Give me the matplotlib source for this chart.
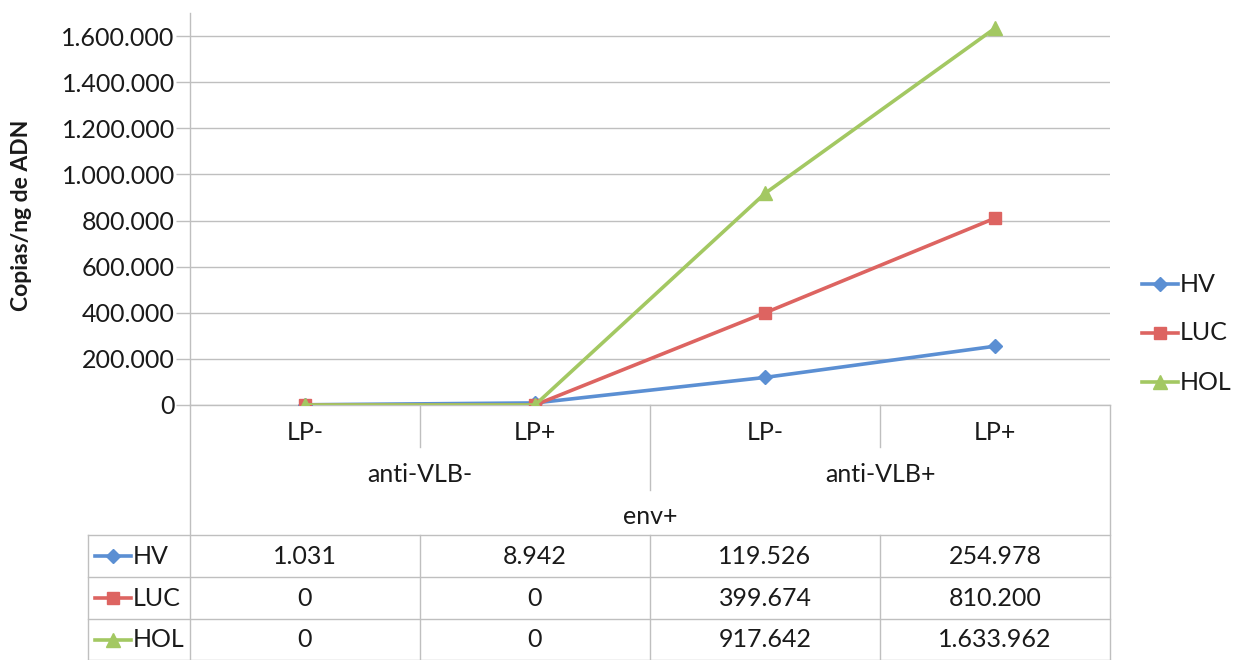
import matplotlib

matplotlib.use("Agg")

import matplotlib.pyplot as plt
from matplotlib.ticker import FuncFormatter
from matplotlib.transforms import blended_transform_factory

plt.rcParams["font.family"] = ["Lato", "DejaVu Sans"]

categories = ["LP-", "LP+", "LP-", "LP+"]
groups = ["anti-VLB-", "anti-VLB+"]
outer_group = "env+"
series_names = ["HV", "LUC", "HOL"]
hv = [1031, 8942, 119526, 254978]
luc = [0, 0, 399674, 810200]
hol = [0, 0, 917642, 1633962]
y_ticks = [0, 200000, 400000, 600000, 800000, 1000000, 1200000, 1400000, 1600000]

colors = ["#5B8FD3", "#DD6461", "#A3C862"]
markers = ["D", "s", "^"]
msizes = [7, 9, 10]
grid_col = "#BFBFBF"
text_col = "#1A1A1A"
FS = 18

W, H = 1237, 660
fig = plt.figure(figsize=(W / 100, H / 100), dpi=100)
fig.patch.set_facecolor("white")

# overlay in pixel coordinates for the category axis, legend and data table
ov = fig.add_axes([0, 0, 1, 1])
ov.set_xlim(0, W)
ov.set_ylim(H, 0)
ov.axis("off")

left, right, top, zero = 190, 1110, 13, 405
ax = fig.add_axes([left / W, (H - zero) / H, (right - left) / W, (zero - top) / H])
ax.set_facecolor("none")

x = list(range(len(categories)))
data = [hv, luc, hol]
for vals, name, c, m, ms in zip(data, series_names, colors, markers, msizes):
    ax.plot(x, vals, color=c, lw=2.6, marker=m, ms=ms, mec=c, mfc=c, label=name, zorder=3)

ax.set_xlim(-0.5, len(categories) - 0.5)
ax.set_ylim(0, 1700000)
ax.set_yticks(y_ticks)
ax.yaxis.set_major_formatter(FuncFormatter(lambda v, p: f"{int(v):,}".replace(",", ".")))
ax.tick_params(axis="y", length=10, width=1, color=grid_col, labelsize=FS, labelcolor=text_col, pad=1)
ax.set_xticks([])
for s in ["top", "right", "bottom"]:
    ax.spines[s].set_visible(False)
ax.spines["left"].set_color(grid_col)
ax.spines["left"].set_linewidth(1)
ax.yaxis.grid(True, color=grid_col, lw=1)
ax.set_axisbelow(True)
ax.set_ylabel("Copias/ng de ADN", fontsize=16.5, fontweight="bold", color=text_col)
ax.yaxis.set_label_coords(-0.172, 0.485)

# category axis + table, x in data coords, y in pixels
tr = blended_transform_factory(ax.transData, ov.transData)
n = len(categories)
lk = dict(color=grid_col, lw=1, transform=tr, clip_on=False)
ov.plot([-0.5, n - 0.5], [zero, zero], **lk)
for i, cat in enumerate(categories):
    ov.text(i, 432, cat, transform=tr, ha="center", va="center", fontsize=FS, color=text_col)
for b in [0.5, 2.5]:
    ov.plot([b, b], [zero, 447], **lk)
ov.plot([1.5, 1.5], [zero, 490], **lk)
for gi, g in enumerate(groups):
    ov.text(gi * 2 + 0.5, 475, g, transform=tr, ha="center", va="center", fontsize=FS, color=text_col)
ov.text((n - 1) / 2, 517, outer_group, transform=tr, ha="center", va="center", fontsize=FS, color=text_col)
ov.plot([-0.5, -0.5], [zero, H], **lk)
ov.plot([n - 0.5, n - 0.5], [zero, H], **lk)

# data table
tab_left = 88
rows_y = [535, 577, 619, 660]
for yy in rows_y:
    ov.plot([tab_left, right], [yy, yy], color=grid_col, lw=1)
ov.plot([tab_left, tab_left], [rows_y[0], H], color=grid_col, lw=1)
for b in [0.5, 1.5, 2.5]:
    ov.plot([b, b], [rows_y[0], H], **lk)


def fmt(v):
    return f"{v:,}".replace(",", ".")


def key(x0, yc, c, m, ms, name):
    ov.plot([x0, x0 + 36], [yc, yc], color=c, lw=2.6)
    ov.plot([x0 + 18], [yc], marker=m, ms=ms, color=c)
    ov.text(x0 + 38, yc, name, ha="left", va="center", fontsize=FS, color=text_col)


for r, (vals, name, c, m, ms) in enumerate(zip(data, series_names, colors, markers, msizes)):
    yc = (rows_y[r] + rows_y[r + 1]) / 2
    key(95, yc, c, m, ms, name)
    for i, v in enumerate(vals):
        ov.text(i, yc, fmt(v), transform=tr, ha="center", va="center", fontsize=FS, color=text_col)

# legend on the right
for r, (name, c, m, ms) in enumerate(zip(series_names, colors, markers, msizes)):
    key(1142, 284 + r * 49, c, m, ms, name)

fig.savefig("out.png", dpi=100, facecolor="white")
